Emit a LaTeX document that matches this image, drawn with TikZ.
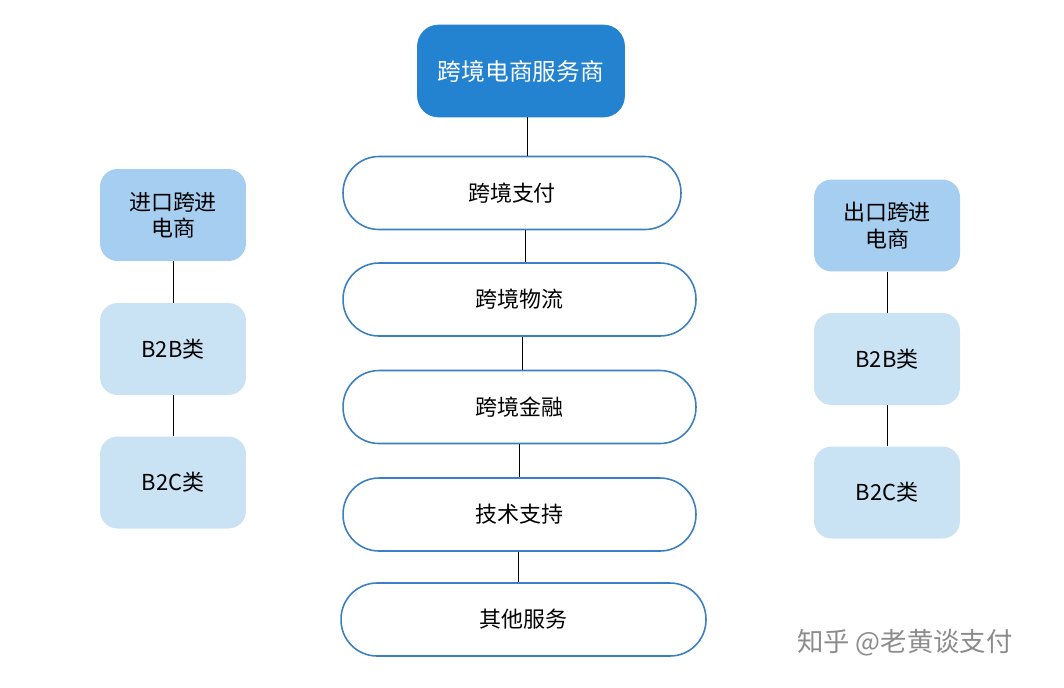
\documentclass[tikz,border=0pt]{standalone}
\usepackage{fontspec}
\setmainfont{Noto Sans CJK SC}
\usetikzlibrary{positioning}
\definecolor{topblue}{HTML}{2383D0}
\definecolor{midblue}{HTML}{A5CEF0}
\definecolor{paleblue}{HTML}{C9E3F5}
\definecolor{pillline}{HTML}{3A7FC4}
\tikzset{
  topbox/.style={draw=topblue,fill=topblue,text=white,rounded corners=12pt,minimum width=4.14cm,minimum height=1.84cm,font=\fontsize{13.5}{16}\selectfont},
  pill/.style={draw=pillline,line width=0.9pt,fill=white,rounded corners=0.72cm,minimum height=1.46cm,font=\fontsize{12.5}{15}\selectfont},
  headbox/.style={fill=midblue,rounded corners=10pt,minimum width=2.92cm,minimum height=1.84cm,align=center,font=\fontsize{12.5}{15}\selectfont},
  subbox/.style={fill=paleblue,rounded corners=10pt,minimum width=2.92cm,minimum height=1.84cm,font=\fontsize{12.5}{15}\selectfont},
  link/.style={draw=black,line width=0.5pt}
}
\begin{document}
\begin{tikzpicture}[x=0.02cm,y=-0.02cm]
  \useasboundingbox (0,0) rectangle (1064,687);

  % centre column
  \node[topbox] (svc) at (521,71) {跨境电商服务商};
  \node[pill,minimum width=6.76cm] (pay) at (512,193) {跨境支付};
  \node[pill,minimum width=7.06cm] (logi) at (519.5,299.5) {跨境物流};
  \node[pill,minimum width=7.06cm] (fin) at (519.5,407) {跨境金融};
  \node[pill,minimum width=7.06cm] (tech) at (519.5,514.5) {技术支持};
  \node[pill,minimum width=7.30cm] (other) at (523.5,619.5) {其他服务};

  \path[link] (svc.south -| 527,0) -- (pay.north -| 527,0);
  \path[link] (pay.south -| 525,0) -- (logi.north -| 525,0);
  \path[link] (logi.south -| 522,0) -- (fin.north -| 522,0);
  \path[link] (fin.south -| 519,0) -- (tech.north -| 519,0);
  \path[link] (tech.south -| 518,0) -- (other.north -| 518,0);

  % import side
  \node[headbox] (imp) at (173,215) {进口跨进\\电商};
  \node[subbox] (impb2b) at (173,349) {B2B类};
  \node[subbox] (impb2c) at (173,482.5) {B2C类};
  \path[link] (imp) -- (impb2b);
  \path[link] (impb2b) -- (impb2c);

  % export side
  \node[headbox] (exp) at (887,225.5) {出口跨进\\电商};
  \node[subbox] (expb2b) at (887,359) {B2B类};
  \node[subbox] (expb2c) at (887,492.5) {B2C类};
  \path[link] (exp) -- (expb2b);
  \path[link] (expb2b) -- (expb2c);

  \node[text=black!45,font=\fontsize{15}{18}\selectfont] (mark) at (905,643) {知乎 @老黄谈支付};
\end{tikzpicture}
\end{document}
